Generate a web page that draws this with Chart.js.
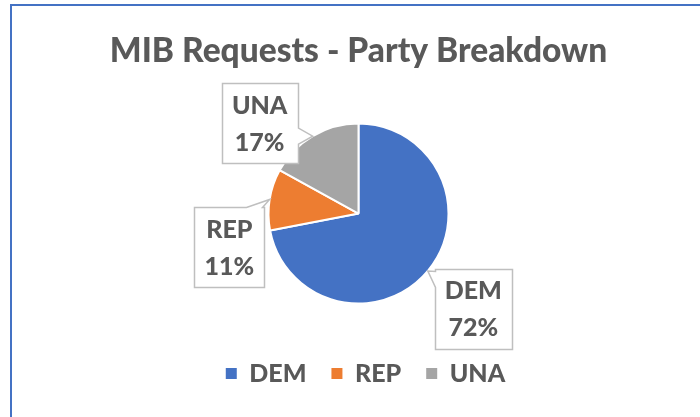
<!DOCTYPE html>
<html>
<head>
<meta charset="utf-8">
<script src="https://cdn.jsdelivr.net/npm/chart.js@4.4.0/dist/chart.umd.min.js"></script>
<style>
  html, body { margin: 0; padding: 0; background: #fff; width: 700px; height: 417px; overflow: hidden; }
  #frame { position: absolute; left: 10px; top: 4px; width: 700px; height: 420px;
           border-left: 2px solid #4472C4; border-top: 2px solid #4472C4; overflow: hidden; }
  #wrap { position: absolute; left: 0; top: 0; width: 693px; height: 411px; }
</style>
</head>
<body>
<div id="frame"><div id="wrap"><canvas id="chart"></canvas></div></div>
<script>
// party breakdown, shares in percent
const categories = ["DEM", "REP", "UNA"];
const shares = [72, 11, 17];
const sliceColors = ["#4472C4", "#ED7D31", "#A5A5A5"];

const textGray = "#595959";

// draws the excel style callout boxes next to each slice
const calloutPlugin = {
    id: "callouts",
    afterDatasetsDraw: function (chart, args, opts) {
        const ctx = chart.ctx;
        const meta = chart.getDatasetMeta(0);
        const values = chart.data.datasets[0].data;
        const total = values.reduce(function (a, b) { return a + b; }, 0);

        ctx.save();
        ctx.font = opts.font;
        meta.data.forEach(function (arc, i) {
            const p = arc.getProps(["x", "y", "startAngle", "endAngle", "outerRadius"], true);
            const mid = (p.startAngle + p.endAngle) / 2;
            const cos = Math.cos(mid), sin = Math.sin(mid);
            const tip = { x: p.x + p.outerRadius * cos, y: p.y + p.outerRadius * sin };
            const off = opts.offsets[i] || [0, 0];
            const cx = p.x + opts.distance * cos + off[0];
            const cy = p.y + opts.distance * sin + off[1];

            const lines = [chart.data.labels[i], Math.round(values[i] / total * 100) + "%"];
            const textW = Math.max.apply(null, lines.map(function (l) { return ctx.measureText(l).width; }));
            const w = textW + opts.padX * 2;
            const h = opts.lineGap * lines.length + opts.padY * 2;
            const x0 = Math.round(cx - w / 2) + 0.5, y0 = Math.round(cy - h / 2) + 0.5;
            const x1 = x0 + Math.round(w), y1 = y0 + Math.round(h);

            calloutPath(ctx, x0, y0, x1, y1, tip, opts.baseLen);
            ctx.fillStyle = "#ffffff";
            ctx.fill();
            ctx.lineWidth = opts.borderWidth;
            ctx.strokeStyle = opts.borderColor;
            ctx.stroke();

            ctx.fillStyle = opts.color;
            ctx.textAlign = "center";
            ctx.textBaseline = "middle";
            lines.forEach(function (l, k) {
                const ly = cy + (k - (lines.length - 1) / 2) * opts.lineGap + opts.textShift;
                ctx.fillText(l, cx, ly);
            });
        });
        ctx.restore();
    }
};

// excel centres the legend a little right of the pie
const legendNudge = {
    id: "legendNudge",
    afterLayout: function (chart, args, opts) {
        chart.legend.left += opts.dx;
        chart.legend.right += opts.dx;
    }
};

function calloutPath(ctx, x0, y0, x1, y1, tip, baseLen) {
    const out = { top: y0 - tip.y, right: tip.x - x1, bottom: tip.y - y1, left: x0 - tip.x };
    let side = "top", best = -Infinity;
    Object.keys(out).forEach(function (k) {
        if (out[k] > best) { best = out[k]; side = k; }
    });
    const clamp = function (v, a, b) { return Math.min(Math.max(v, a), b); };
    const pts = [[x0, y0]];
    let a;
    if (side === "top") {
        a = clamp(tip.x - baseLen / 2, x0 + 2, x1 - 2 - baseLen);
        pts.push([a, y0], [tip.x, tip.y], [a + baseLen, y0]);
    }
    pts.push([x1, y0]);
    if (side === "right") {
        a = clamp(tip.y - baseLen / 2, y0 + 2, y1 - 2 - baseLen);
        pts.push([x1, a], [tip.x, tip.y], [x1, a + baseLen]);
    }
    pts.push([x1, y1]);
    if (side === "bottom") {
        a = clamp(tip.x - baseLen / 2, x0 + 2, x1 - 2 - baseLen);
        pts.push([a + baseLen, y1], [tip.x, tip.y], [a, y1]);
    }
    pts.push([x0, y1]);
    if (side === "left") {
        a = clamp(tip.y - baseLen / 2, y0 + 2, y1 - 2 - baseLen);
        pts.push([x0, a + baseLen], [tip.x, tip.y], [x0, a]);
    }
    ctx.beginPath();
    pts.forEach(function (pt, i) {
        if (i === 0) ctx.moveTo(pt[0], pt[1]);
        else ctx.lineTo(pt[0], pt[1]);
    });
    ctx.closePath();
}

const defaultLabels = Chart.overrides.doughnut.plugins.legend.labels.generateLabels;

new Chart(document.getElementById("chart"), {
    type: "pie",
    data: {
        labels: categories,
        datasets: [{
            data: shares,
            backgroundColor: sliceColors,
            borderColor: "#ffffff",
            borderWidth: 2,
            radius: 90
        }]
    },
    options: {
        responsive: true,
        maintainAspectRatio: false,
        animation: false,
        layout: { padding: { bottom: 21 } },
        plugins: {
            title: {
                display: true,
                text: "MIB Requests - Party Breakdown",
                color: textGray,
                font: { family: "Lato", size: 33.5, weight: 900 },
                padding: { top: 25, bottom: 20 }
            },
            legend: {
                position: "bottom",
                labels: {
                    color: textGray,
                    font: { family: "Lato", size: 25, weight: 900 },
                    boxWidth: 11,
                    boxHeight: 11,
                    padding: 25,
                    generateLabels: function (chart) {
                        return defaultLabels(chart).map(function (item) {
                            item.lineWidth = 0;
                            return item;
                        });
                    }
                }
            },
            tooltip: { enabled: false },
            legendNudge: { dx: 7 },
            callouts: {
                font: "900 25px Lato",
                color: textGray,
                borderColor: "#BFBFBF",
                borderWidth: 1.5,
                distance: 149,
                offsets: [[0, 0], [18, 57], [-23, 38]],
                padX: 10,
                padY: 3,
                lineGap: 37,
                textShift: 1,
                baseLen: 16
            }
        }
    },
    plugins: [calloutPlugin, legendNudge]
});
</script>
</body>
</html>
